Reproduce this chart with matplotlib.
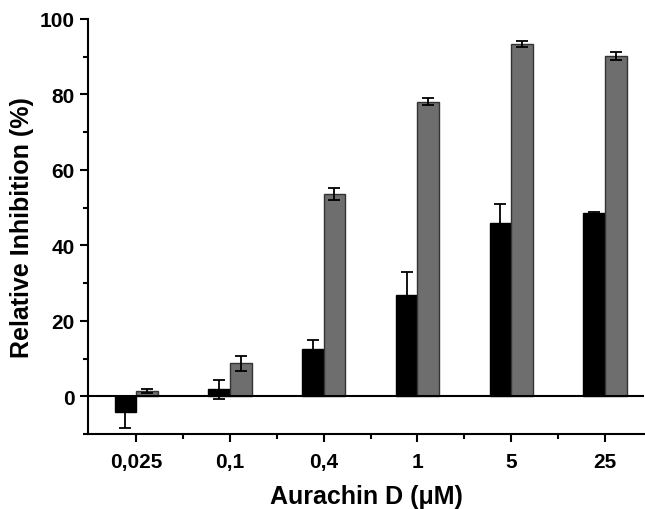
import matplotlib.pyplot as plt
import numpy as np

plt.rcParams['font.family'] = ['Liberation Sans', 'DejaVu Sans']
plt.rcParams['font.weight'] = 'bold'

concentrations = ['0,025', '0,1', '0,4', '1', '5', '25']
black_vals = [-4.2, 1.8, 12.6, 26.8, 46.0, 48.5]
black_err = [4.3, 2.6, 2.2, 6.2, 5.0, 0.3]
gray_vals = [1.5, 8.7, 53.6, 78.1, 93.4, 90.1]
gray_err = [0.5, 2.1, 1.6, 0.9, 0.8, 1.0]

fig = plt.figure(figsize=(6.45, 5.1), dpi=100)
ax = fig.add_axes([0.137, 0.147, 0.862, 0.814])

x = np.arange(len(concentrations))
w = 0.23
err_kw = dict(ecolor='black', elinewidth=1.3, capsize=4, capthick=1.3)
ax.bar(x - w / 2, black_vals, w, yerr=black_err, color='black',
       edgecolor='black', linewidth=1, error_kw=err_kw, zorder=2)
ax.bar(x + w / 2, gray_vals, w, yerr=gray_err, color='#6e6e6e',
       edgecolor='#333333', linewidth=1, error_kw=err_kw, zorder=2)

ax.axhline(0, color='black', linewidth=1.5, zorder=3)

ax.set_xlim(-0.51, 5.42)
ax.set_ylim(-10, 100)
ax.set_xticks(x)
ax.set_xticklabels(concentrations)
ax.set_xticks(x[:-1] + 0.5, minor=True)
ax.set_yticks(range(0, 101, 20))
ax.set_yticks([-10] + list(range(10, 100, 20)), minor=True)

for s in ['top', 'right']:
    ax.spines[s].set_visible(False)
for s in ['left', 'bottom']:
    ax.spines[s].set_linewidth(1.5)

ax.tick_params(which='major', length=6, width=1.5, labelsize=15, pad=4)
ax.tick_params(which='minor', length=3.5, width=1.5)
ax.tick_params(axis='x', which='major', pad=7)

ax.set_xlabel('Aurachin D (\u03bcM)', fontsize=18, fontweight='bold', labelpad=9)
ax.set_ylabel('Relative Inhibition (%)', fontsize=18, fontweight='bold', labelpad=4)

plt.savefig('out.png', dpi=100)
